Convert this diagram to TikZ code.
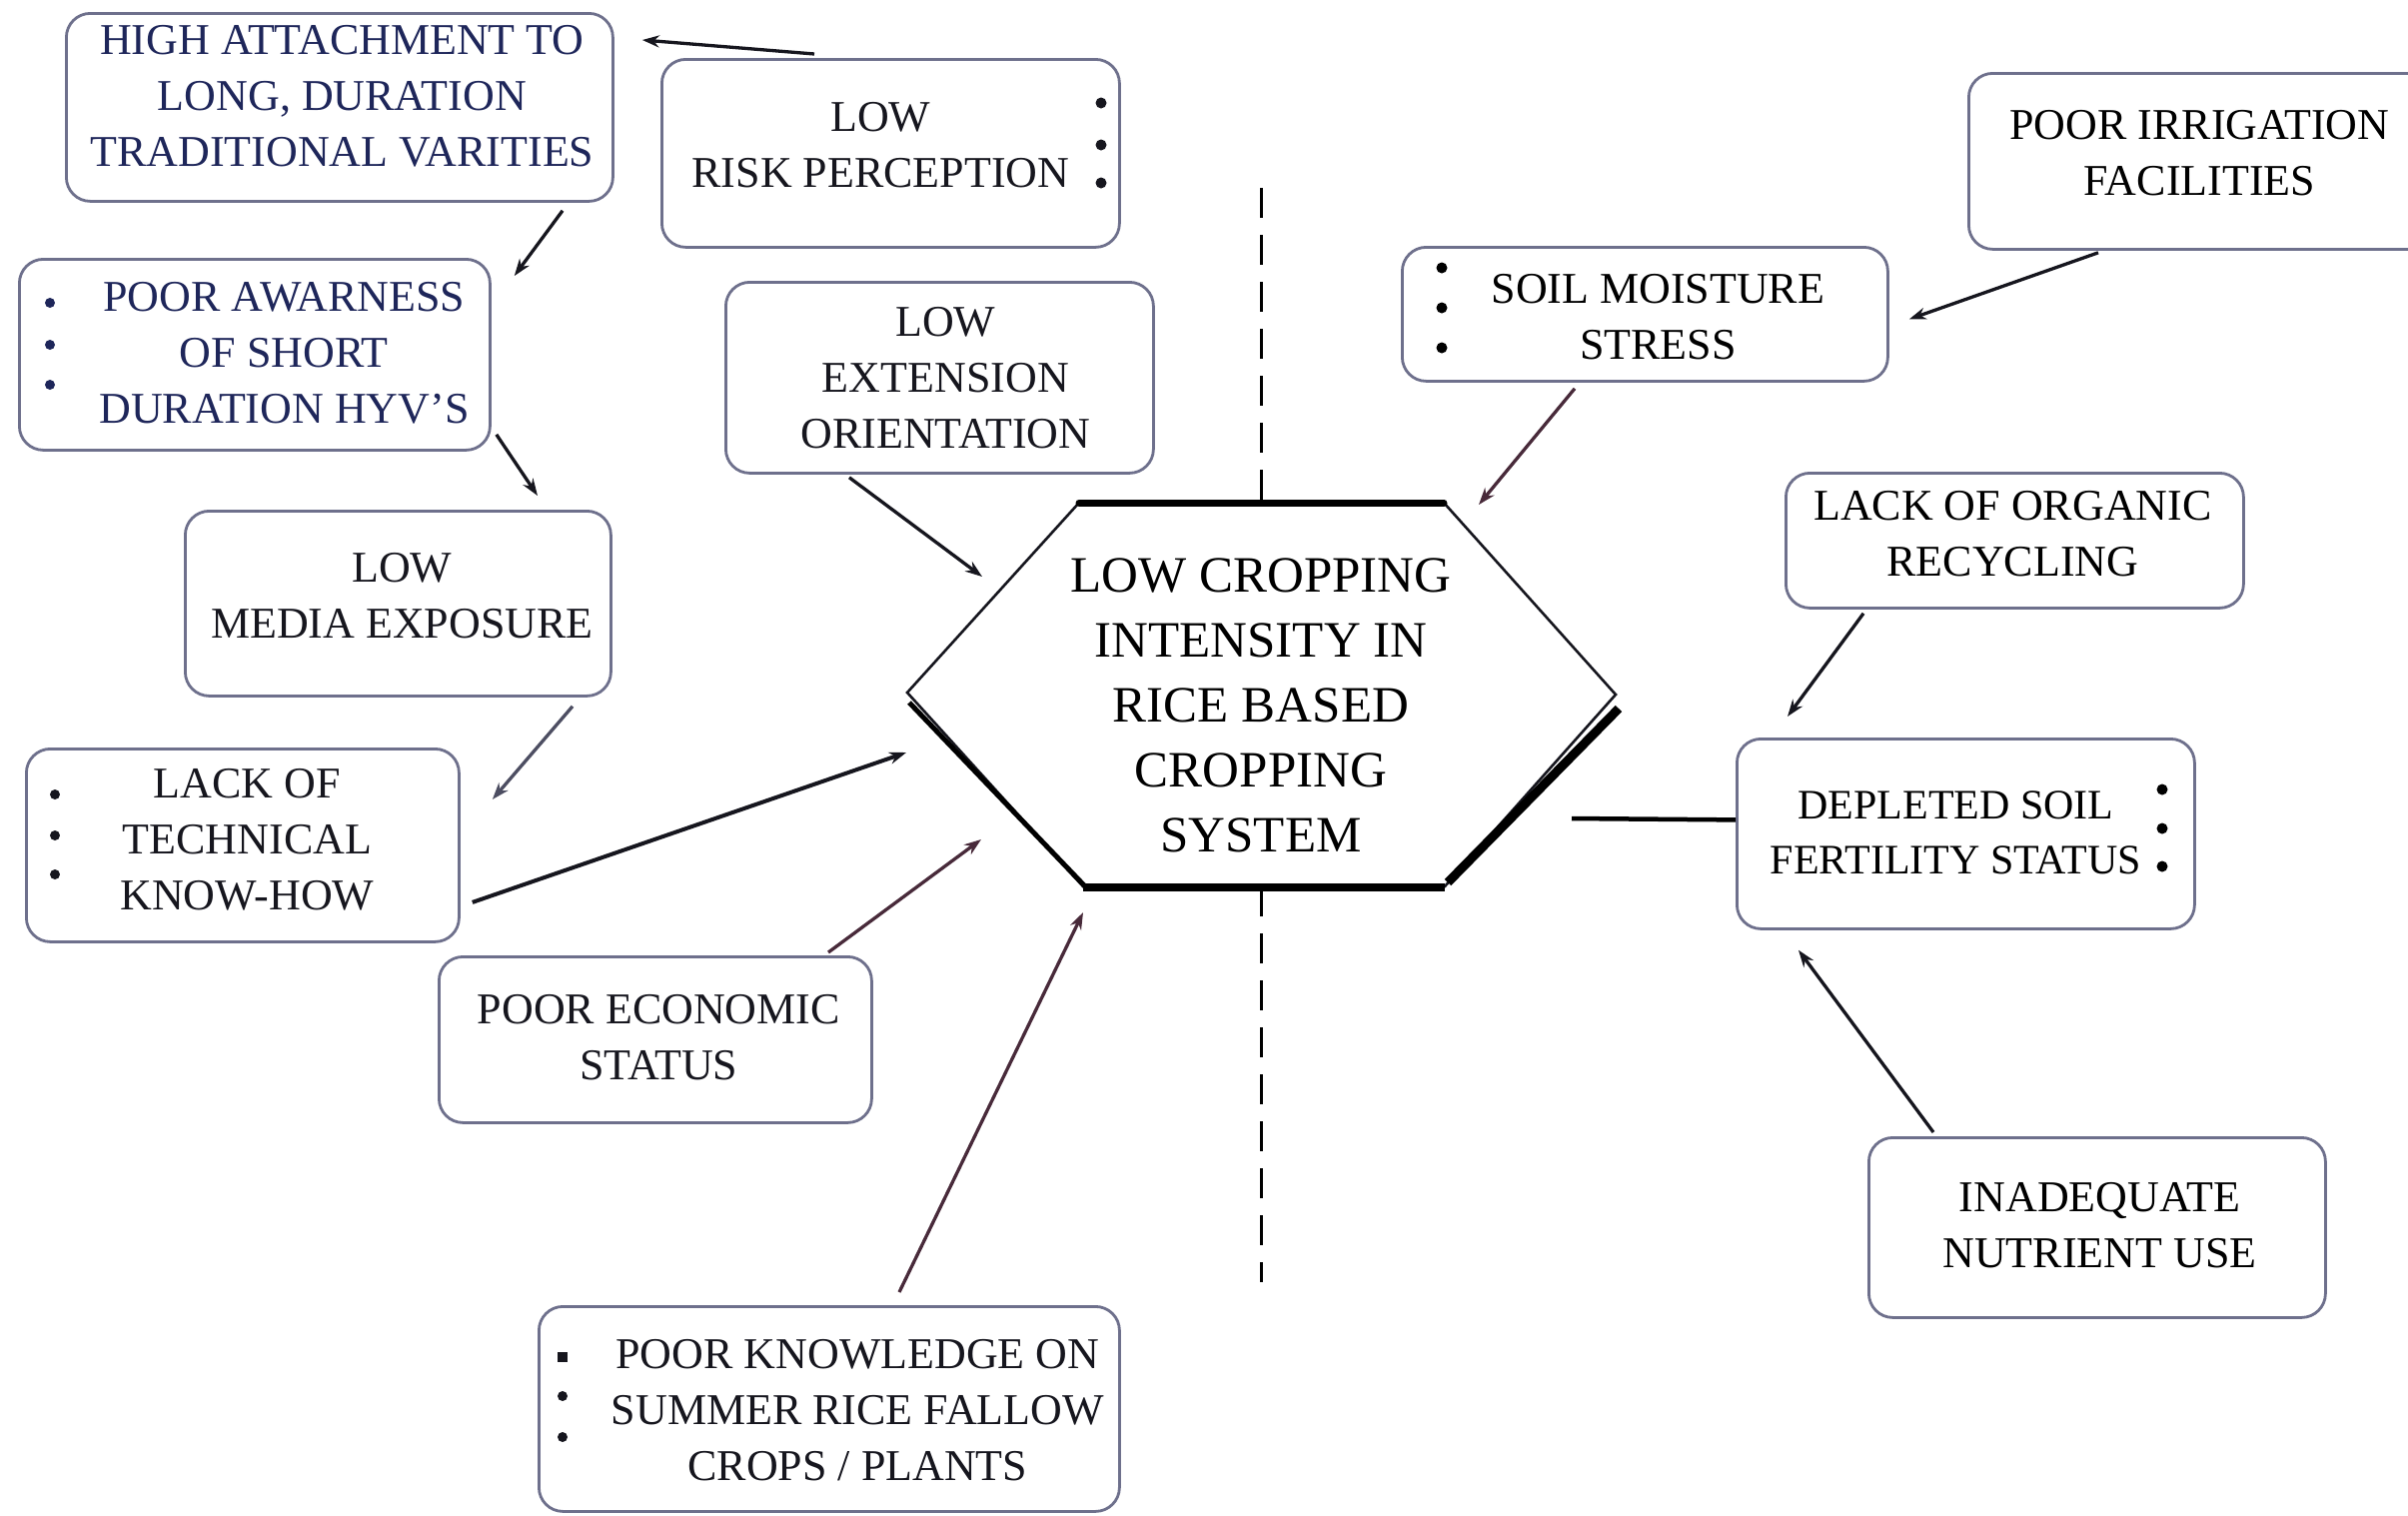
\documentclass[tikz,border=0pt]{standalone}
\usepackage{fontspec}
\setmainfont{Liberation Serif}
\usetikzlibrary{calc,arrows.meta}
\definecolor{boxc}{RGB}{110,112,140}
\definecolor{navy}{RGB}{30,38,90}
\definecolor{ink}{RGB}{22,22,30}
\definecolor{wine}{RGB}{72,42,58}
\begin{document}
\begin{tikzpicture}[x=1pt,y=-1pt,
  box/.style={draw=boxc, line width=2.8pt, rounded corners=24pt, fill=white, inner sep=0pt, anchor=north west},
  txt/.style={align=center, font=\fontsize{44}{56}\selectfont, inner sep=0pt, text=ink},
  hextxt/.style={align=center, font=\fontsize{51}{65}\selectfont, inner sep=0pt, text=black},
  conn/.style={line width=3.3pt, draw=ink, -{Stealth[length=17pt,width=12pt]}},
  plain/.style={line width=4.5pt, draw=black},
  dashline/.style={line width=3pt, draw=black, dash pattern=on 30pt off 17pt},
  bul/.style={fill=ink}
]
\useasboundingbox (0,0) rectangle (2410,1516);
\clip (0,0) rectangle (2410,1516);
\fill[white] (0,0) rectangle (2410,1516);

% ---- hexagon ----
\coordinate (hTL) at (1080,503);
\coordinate (hTR) at (1445,503);
\coordinate (hR)  at (1617,695);
\coordinate (hBR) at (1446,887);
\coordinate (hBL) at (1084,887);
\coordinate (hL)  at (908,693);
\coordinate (hT)  at (1262,503);
\coordinate (hB)  at (1262,887);
\coordinate (dtop) at (1262,188);
\coordinate (dbot) at (1262,1283);
\draw[dashline] (dtop) -- (hT);
\draw[dashline] (hB) -- (dbot);
\draw[line width=2.6pt, draw=ink, fill=white] (hTL)--(hTR)--(hR)--(hBR)--(hBL)--(hL)--cycle;
\draw[line width=7pt, line cap=round] (hTL) -- (hTR);
\draw[line width=5pt] ($(hL)+(2,10)$) -- ($(hBL)+(2,0)$);
\draw[line width=8pt] ($(hBL)+(0,1)$) -- ($(hBR)+(0,1)$);
\draw[line width=9pt] ($(hBR)+(3,-4)$) -- ($(hR)+(3,14)$);
\node[hextxt] (hex) at (1262,706) {LOW CROPPING\\INTENSITY IN\\RICE BASED\\CROPPING\\SYSTEM};

% hexagon arrow ends
\coordinate (e5)  at (907,753);
\coordinate (e6)  at (983,577);
\coordinate (e7)  at (982,840);
\coordinate (e8)  at (1084,913);
\coordinate (e10) at (1480,505);
\coordinate (e12) at (1573,819);

% ---- boxes ----
\node[box, minimum width=547pt, minimum height=188pt] (b1) at (65,12) {};
\node[txt, text=navy] (t1) at ($(b1.center)+(2.5,-11)$) {HIGH ATTACHMENT TO\\LONG, DURATION\\TRADITIONAL VARITIES};

\node[box, minimum width=458pt, minimum height=188pt] (b2) at (661,58) {};
\node[txt] (t2) at ($(b2.center)+(-10,-8.5)$) {LOW\\RISK PERCEPTION};

\node[box, minimum width=471pt, minimum height=191pt] (b3) at (18,258) {};
\node[txt, text=navy] (t3) at ($(b3.center)+(29.5,-1.5)$) {POOR AWARNESS\\OF SHORT\\DURATION HYV'S};

\node[box, minimum width=428pt, minimum height=191pt] (b4) at (725,281) {};
\node[txt] (t4) at ($(b4.center)+(6,0)$) {LOW\\EXTENSION\\ORIENTATION};

\node[box, minimum width=426pt, minimum height=185pt] (b5) at (184,510) {};
\node[txt] (t5) at ($(b5.center)+(4,-8)$) {LOW\\MEDIA EXPOSURE};

\node[box, minimum width=433pt, minimum height=193pt] (b6) at (25,748) {};
\node[txt] (t6) at ($(b6.center)+(4.5,-5.5)$) {LACK OF\\TECHNICAL\\KNOW-HOW};

\node[box, minimum width=433pt, minimum height=166pt] (b7) at (438,956) {};
\node[txt] (t7) at ($(b7.center)+(3.5,-2)$) {POOR ECONOMIC\\STATUS};

\node[box, minimum width=581pt, minimum height=205pt] (b8) at (538,1306) {};
\node[txt] (t8) at ($(b8.center)+(28.5,1)$) {POOR KNOWLEDGE ON\\SUMMER RICE FALLOW\\CROPS / PLANTS};

\node[box, minimum width=480pt, minimum height=176pt] (b9) at (1969,72) {};
\node[txt, text=black] (t9) at ($(b9.center)+(-9,-8.5)$) {POOR IRRIGATION\\FACILITIES};

\node[box, minimum width=486pt, minimum height=134pt] (b10) at (1402,246) {};
\node[txt, text=black] (t10) at ($(b10.center)+(13,3)$) {SOIL MOISTURE\\STRESS};

\node[box, minimum width=458pt, minimum height=135pt] (b11) at (1786,472) {};
\node[txt, text=black] (t11) at ($(b11.center)+(-2,-7)$) {LACK OF ORGANIC\\RECYCLING};

\node[box, minimum width=458pt, minimum height=190pt] (b12) at (1737,738) {};
\node[txt, text=black, font=\fontsize{42}{55}\selectfont] (t12) at ($(b12.center)+(-10,-1.5)$) {DEPLETED SOIL\\FERTILITY STATUS};

\node[box, minimum width=457pt, minimum height=180pt] (b13) at (1869,1137) {};
\node[txt, text=black] (t13) at ($(b13.center)+(2.5,-2)$) {INADEQUATE\\NUTRIENT USE};

% ---- bullets ----
\foreach \dy in {45,87,125} \fill[bul] ($(b2.north west)+(441,\dy)$) circle (5.5pt);
\foreach \dy in {45,87,127} \fill[bul, fill=navy] ($(b3.north west)+(32,\dy)$) circle (5pt);
\foreach \dy in {47,88,127} \fill[bul] ($(b6.north west)+(30,\dy)$) circle (5pt);
\fill[bul] ($(b8.north west)+(20,47)$) rectangle ($(b8.north west)+(30,57)$);
\foreach \dy in {91,132} \fill[bul] ($(b8.north west)+(25,\dy)$) circle (5pt);
\foreach \dy in {22,62,102} \fill[bul, fill=black] ($(b10.north west)+(41,\dy)$) circle (5.5pt);
\foreach \dy in {52,91,129} \fill[bul, fill=black] ($(b12.north west)+(427,\dy)$) circle (5.5pt);

% ---- connectors ----
\draw[conn] ($(b2.north west)+(154,-4)$) -- ($(b1.north east)+(28,28)$);
\draw[conn] ($(b1.south west)+(498,8)$) -- ($(b3.north east)+(23,18)$);
\draw[conn] ($(b3.south east)+(5,-17)$) -- ($(b5.north west)+(354,-14)$);
\draw[conn, draw=boxc!70!black] ($(b5.south west)+(389,9)$) -- ($(b6.north east)+(32,52)$);
\draw[conn, line width=4pt] ($(b6.east)+(12,57)$) -- (e5);
\draw[conn] ($(b4.south west)+(125,3)$) -- (e6);
\draw[conn, draw=wine] ($(b7.north west)+(391,-3)$) -- (e7);
\draw[conn, draw=wine] ($(b8.north west)+(362,-13)$) -- (e8);
\draw[conn] ($(b9.south west)+(131,2)$) -- ($(b10.east)+(20,5)$);
\draw[conn, draw=wine] ($(b10.south west)+(174,6)$) -- (e10);
\draw[conn] ($(b11.south west)+(79,4)$) -- ($(b12.north west)+(52,-21)$);
\draw[plain] (e12) -- ($(b12.west)+(0,-14)$);
\draw[conn] ($(b13.north west)+(66,-4)$) -- ($(b12.south west)+(63,20)$);
\end{tikzpicture}
\end{document}
